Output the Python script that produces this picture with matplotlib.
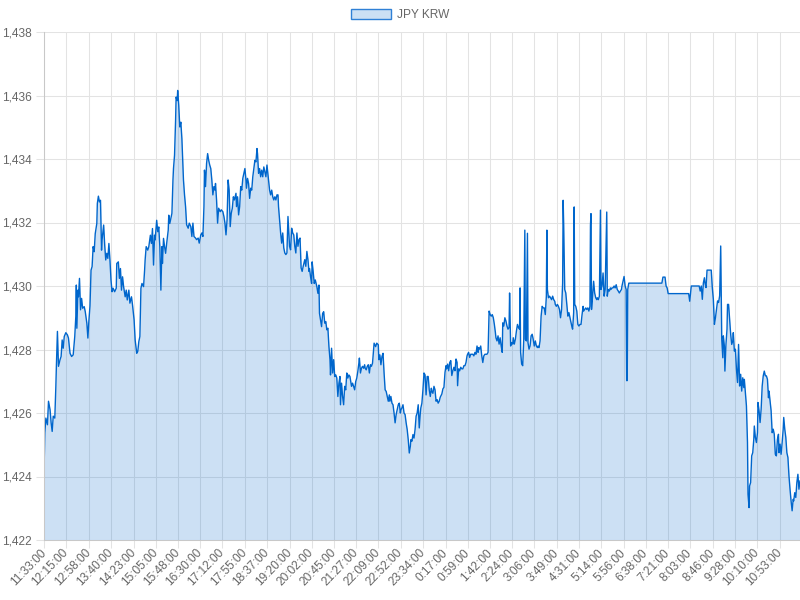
import matplotlib
matplotlib.use("Agg")
import matplotlib.pyplot as plt
from matplotlib.patches import Patch
from matplotlib.ticker import FuncFormatter, FixedLocator

series_name = "JPY KRW"
start_time = "11:33"

# minutes elapsed since start_time, and the JPY/KRW rate
minutes = [
    0, 1, 3, 6, 8, 11, 13, 15, 17, 20, 22, 23, 25, 27, 30, 32, 34, 36, 38, 41,
    44, 46, 49, 52, 55, 58, 60, 61, 62, 64, 65, 67, 69, 71, 73, 76, 78, 81, 83, 85,
    87, 89, 91, 93, 95, 97, 100, 101, 103, 105, 107, 109, 110, 113, 115, 117, 119, 121, 123, 125,
    127, 129, 131, 134, 137, 138, 141, 143, 145, 147, 149, 151, 154, 156, 158, 161, 163, 166, 168, 171,
    173, 176, 178, 180, 182, 184, 186, 189, 191, 192, 194, 197, 199, 202, 204, 206, 208, 210, 211, 214,
    216, 218, 220, 222, 224, 225, 227, 229, 231, 233, 236, 237, 239,
    243, 245, 246, 248, 250, 251, 253, 254, 256, 258, 260, 262, 264, 265, 267, 269, 271, 274, 276, 279,
    281, 283, 285, 288, 290, 293, 295, 298, 300, 302, 304, 305, 307, 309, 311, 313, 315, 317, 319, 321,
    323, 325, 326, 328, 330, 332, 335, 337, 340, 342, 344, 346, 348, 350, 352, 354, 356, 358, 360, 362,
    365, 366, 368, 370, 372, 374, 376, 378, 380, 382, 384, 385, 387, 389, 391, 393, 395, 397, 399, 401,
    403, 405, 406, 408, 410, 412, 414, 416, 418, 420, 422, 424, 425, 427, 429, 431, 433, 435, 437, 439,
    441, 443, 445, 446, 448, 450, 452, 454, 456, 458, 460, 462, 464, 465, 467, 469, 471, 473, 475, 477,
    479, 481, 483, 485, 487, 489, 491, 493, 496, 498, 500, 502, 504,
    505, 507, 509, 510, 512, 514, 516, 519, 521, 523, 524, 526, 528, 530, 532, 534, 536, 538, 540, 542,
    544, 545, 547, 549, 551, 553, 555, 557, 559, 561, 563, 564, 566, 568, 570, 572, 574, 576, 578, 580,
    582, 584, 585, 587, 589, 591, 593, 595, 597, 599, 600, 602, 604, 606, 608, 610, 611, 613, 615, 617,
    619, 621, 623, 625, 627, 628, 631, 633, 636, 637, 639, 641, 643, 645, 647, 649, 651, 653, 655, 657,
    658, 660, 662, 664, 666, 668, 670, 672, 674, 676, 678, 679, 681, 683, 685, 687, 689, 691, 693, 695,
    697, 698, 700, 702, 704, 706, 708, 710, 712, 714, 716, 717, 719, 721, 723, 725, 727, 729, 731, 733,
    735, 737, 738, 740, 742, 744, 746, 748, 750, 752,
    754, 757, 759, 761, 763, 765, 766, 768, 770, 772, 774, 776, 778, 780, 782, 784, 786, 787, 789, 791,
    793, 795, 797, 799, 801, 803, 805, 806, 808, 810, 812, 814, 816, 818, 820, 822, 824, 826, 827, 829,
    831, 833, 835, 837, 839, 841, 843, 845, 847, 849, 851, 853, 855, 857, 859, 860, 862, 864, 866, 868,
    870, 872, 873, 875, 877, 879, 881, 883, 885, 886, 888, 890, 892, 893, 895, 897, 899, 901, 903, 905,
    906, 907, 909, 911, 913, 915, 916, 918, 920, 921, 923, 925, 927, 929, 931, 933, 935, 937, 939, 940,
    942, 944, 946, 948, 950, 952, 954, 956, 957, 958, 960, 962, 964, 966, 968, 970, 972, 973, 975, 977,
    979, 981, 983, 985, 987, 988,
    989, 991, 993, 995, 997, 999, 1001, 1003, 1005, 1006, 1008, 1009, 1010, 1012, 1014, 1016, 1018, 1020, 1022, 1024,
    1026, 1027, 1029, 1031, 1033, 1035, 1037, 1039, 1040, 1041, 1042, 1044, 1046, 1048, 1050, 1052, 1053, 1055, 1057, 1059,
    1060, 1062, 1064, 1066, 1068, 1071, 1072, 1074, 1076, 1078, 1079, 1081, 1083, 1085, 1087, 1089, 1091, 1093, 1095, 1097,
    1099, 1100, 1102, 1104, 1106, 1108, 1109, 1110, 1111, 1113, 1176, 1178, 1182, 1184, 1186, 1188, 1227, 1229,
    1232, 1247, 1249, 1251, 1253, 1255, 1257, 1258, 1260, 1262, 1270, 1272, 1274, 1276, 1278, 1280, 1282, 1284, 1286, 1288,
    1289, 1290, 1292, 1293, 1295, 1296, 1298, 1300, 1301, 1303, 1305, 1307, 1309, 1311, 1312, 1314, 1316, 1318, 1320, 1322,
    1324, 1326, 1328, 1330, 1332, 1333, 1335, 1337, 1339, 1340, 1342, 1343, 1345, 1347, 1349, 1351, 1352, 1354, 1356, 1358,
    1359, 1361, 1363, 1365, 1367, 1369, 1371, 1373, 1375, 1377, 1379, 1380, 1382, 1384, 1386, 1388, 1390, 1392, 1394, 1396,
    1398, 1399, 1401, 1403, 1405, 1407, 1408, 1410, 1412, 1414, 1416, 1418, 1420, 1422, 1424, 1426, 1427, 1429, 1431, 1433,
    1435, 1437, 1439,
]

rates = [
    1424.59, 1425.37, 1425.84, 1425.63, 1426.37, 1426.10, 1425.69, 1425.42, 1425.90, 1425.84,
    1426.84, 1427.47, 1428.57, 1427.47, 1427.68, 1427.78, 1428.30, 1428.04, 1428.41, 1428.53,
    1428.46, 1428.36, 1427.88, 1427.78, 1427.83, 1428.41, 1429.04, 1430.03, 1428.67, 1429.87,
    1429.66, 1430.24, 1429.25, 1429.61, 1429.30, 1429.35, 1429.19, 1428.83, 1428.36, 1428.93,
    1429.37, 1430.50, 1430.61, 1431.24, 1431.08, 1431.65, 1431.97, 1432.60, 1432.83, 1432.65,
    1432.70, 1431.13, 1431.45, 1431.92, 1431.29, 1430.82, 1431.03, 1430.87, 1431.34, 1430.82,
    1430.19, 1429.82, 1429.93, 1429.82, 1429.93, 1430.71, 1430.76, 1430.24, 1430.55, 1429.87,
    1430.29, 1429.98, 1429.66, 1429.87, 1429.56, 1429.87, 1429.46, 1429.66, 1429.40, 1428.93,
    1428.30, 1427.88, 1427.94, 1428.25, 1428.41, 1429.93, 1430.08, 1429.98, 1430.50, 1430.82,
    1431.24, 1431.13, 1431.24, 1431.60, 1431.34, 1431.81, 1430.66, 1431.60, 1431.45, 1432.07,
    1431.71, 1431.86, 1431.24, 1429.87, 1431.24, 1430.71, 1431.50, 1431.24, 1431.03, 1431.34,
    1431.76, 1432.23, 1431.97,
    1432.29, 1433.34, 1433.70, 1434.12, 1435.22, 1435.95, 1435.84, 1436.16, 1435.69, 1435.01,
    1435.16, 1434.64, 1433.75, 1433.34, 1432.87, 1432.50, 1431.93, 1431.82, 1431.98, 1431.87,
    1431.56, 1431.98, 1431.56, 1431.51, 1431.46, 1431.51, 1431.35, 1431.61, 1431.67, 1431.56,
    1432.50, 1433.65, 1433.13, 1433.86, 1434.17, 1433.96, 1433.81, 1433.70, 1433.34, 1432.87,
    1433.13, 1433.02, 1433.23, 1432.71, 1431.98, 1432.45, 1432.34, 1432.40, 1432.34, 1432.19,
    1431.98, 1431.61, 1432.08, 1433.34, 1433.02, 1431.87, 1432.29, 1432.45, 1432.81, 1432.71,
    1432.92, 1432.50, 1432.81, 1432.24, 1432.50, 1433.13, 1433.02, 1433.39, 1433.55, 1433.70,
    1433.34, 1433.08, 1433.39, 1433.23, 1432.76, 1433.08, 1433.02, 1433.44, 1433.70, 1433.96,
    1433.91, 1434.33, 1434.17, 1433.55, 1433.70, 1433.44, 1433.65, 1433.44, 1433.75, 1433.60,
    1433.44, 1433.81, 1433.65, 1433.34, 1433.02, 1432.87, 1433.02, 1432.81, 1432.71, 1432.81,
    1432.71, 1432.87, 1432.87, 1432.50, 1432.08, 1431.67, 1431.35, 1431.67, 1431.20, 1431.04,
    1430.99, 1431.04, 1432.19, 1431.87, 1431.25, 1431.14, 1431.82, 1431.67, 1431.61, 1431.25,
    1431.04, 1431.67, 1431.25, 1431.46, 1431.51, 1430.57, 1430.46, 1430.62, 1430.83, 1430.62,
    1431.09, 1430.83, 1430.46,
    1430.55, 1430.29, 1430.08, 1430.76, 1430.45, 1430.08, 1430.19, 1429.98, 1429.77, 1430.03,
    1429.14, 1428.93, 1428.72, 1429.14, 1429.19, 1428.83, 1428.88, 1428.62, 1428.67, 1428.09,
    1427.68, 1427.20, 1428.04, 1427.26, 1427.68, 1427.15, 1427.20, 1427.10, 1426.52, 1426.94,
    1427.15, 1426.26, 1426.94, 1426.52, 1426.26, 1426.84, 1426.73, 1427.26, 1427.10, 1427.20,
    1427.15, 1426.94, 1426.84, 1426.94, 1426.84, 1426.73, 1426.99, 1427.10, 1427.31, 1427.57,
    1427.73, 1427.26, 1427.41, 1427.47, 1427.41, 1427.52, 1427.41, 1427.36, 1427.47, 1427.52,
    1427.26, 1427.52, 1427.47, 1427.57, 1427.99, 1428.20, 1428.09, 1428.20, 1428.15, 1427.68,
    1427.83, 1427.52, 1427.78, 1427.88, 1427.26, 1426.73, 1426.68, 1426.52, 1426.37, 1426.57,
    1426.37, 1426.52, 1426.31, 1426.26, 1426.00, 1425.69, 1425.95, 1426.10, 1426.26, 1426.31,
    1426.00, 1426.10, 1426.16, 1426.26, 1426.00, 1425.95, 1425.69, 1425.48, 1425.16, 1424.74,
    1424.95, 1425.16, 1425.11, 1425.32, 1425.21, 1425.48, 1425.90, 1426.00, 1426.26, 1425.53,
    1426.00, 1426.16, 1426.31, 1426.73, 1427.26, 1427.20, 1426.57, 1427.15, 1427.15, 1426.73,
    1426.52, 1426.78, 1426.68, 1426.62, 1426.84, 1426.73, 1426.37, 1426.42, 1426.31, 1426.37,
    1426.50, 1426.60, 1426.76, 1426.81, 1427.28, 1427.49, 1427.39, 1427.54, 1427.33, 1427.59,
    1427.65, 1427.18, 1427.33, 1427.44, 1427.33, 1427.70, 1427.59, 1426.86, 1427.39, 1427.33,
    1427.44, 1427.39, 1427.39, 1427.49, 1427.49, 1427.59, 1427.80, 1427.85, 1427.91, 1427.75,
    1427.85, 1427.85, 1427.85, 1427.80, 1427.91, 1427.85, 1428.11, 1427.91, 1428.06, 1428.01,
    1428.11, 1427.80, 1427.59, 1427.80, 1427.85, 1427.85, 1427.85, 1427.91, 1429.21, 1429.10,
    1429.05, 1429.10, 1429.00, 1428.79, 1428.53, 1428.37, 1428.27, 1428.43, 1428.17, 1428.37,
    1428.11, 1427.91, 1428.84, 1428.74, 1429.00, 1428.90, 1428.74, 1428.64, 1428.69, 1429.78,
    1428.11, 1428.22, 1428.17, 1428.37, 1428.17, 1428.32, 1428.58, 1428.79, 1428.69, 1428.64,
    1429.94, 1427.91, 1427.54, 1427.49, 1428.32, 1431.76, 1428.32, 1428.27, 1431.66, 1428.22,
    1428.01, 1428.11, 1428.43, 1428.48, 1428.32, 1428.11, 1428.27, 1428.11, 1428.06, 1428.11,
    1428.06, 1428.27, 1429.05, 1429.36, 1429.31, 1429.31, 1429.10, 1429.68, 1431.76, 1429.89,
    1429.63, 1429.68, 1429.63, 1429.57, 1429.68, 1429.57, 1429.52, 1429.42, 1429.36, 1429.42,
    1429.36, 1429.26, 1429.00, 1429.26, 1430.09, 1432.70,
    1431.92, 1429.89, 1429.78, 1429.42, 1429.05, 1429.16, 1429.00, 1428.84, 1428.69, 1428.64,
    1429.16, 1432.49, 1429.42, 1429.36, 1429.21, 1428.79, 1428.74, 1428.79, 1428.79, 1429.10,
    1429.36, 1429.21, 1429.26, 1429.31, 1429.26, 1429.31, 1429.21, 1429.36, 1431.92, 1432.28,
    1429.26, 1429.68, 1430.15, 1429.78, 1429.63, 1429.57, 1429.63, 1429.57, 1429.68, 1432.39,
    1429.89, 1430.00, 1430.41, 1429.68, 1429.89, 1432.33, 1429.68, 1429.89, 1429.84, 1429.94,
    1429.89, 1429.94, 1429.94, 1430.00, 1429.94, 1430.04, 1429.89, 1429.84, 1429.78, 1429.84,
    1429.89, 1430.00, 1430.15, 1430.30, 1430.00, 1429.89, 1427.02, 1427.02, 1429.89, 1430.09,
    1430.09, 1430.28, 1430.28, 1430.00, 1429.94, 1429.76, 1429.76, 1429.52,
    1430.00, 1430.00, 1429.84, 1430.00, 1429.58, 1430.10, 1430.26, 1430.10, 1429.95, 1430.50,
    1430.50, 1429.95, 1429.58, 1428.79, 1429.00, 1429.27, 1429.53, 1429.48, 1429.69, 1431.26,
    1429.69, 1428.32, 1427.74, 1428.43, 1428.11, 1427.32, 1428.16, 1428.64, 1429.42, 1429.42,
    1428.95, 1428.48, 1428.16, 1428.27, 1428.53, 1427.95, 1428.01, 1427.38, 1426.96, 1428.16,
    1426.85, 1427.22, 1426.69, 1427.11, 1426.80, 1427.06, 1426.64, 1426.22, 1425.07, 1423.44,
    1423.02, 1423.70, 1423.81, 1424.65, 1424.75, 1425.17, 1425.59, 1425.23, 1425.07, 1425.38,
    1426.33, 1426.07, 1425.70, 1426.12, 1426.85, 1427.17, 1427.32, 1427.17, 1427.17, 1427.06,
    1426.48, 1426.69, 1426.38, 1426.07, 1425.38, 1425.49, 1425.33, 1424.70, 1424.65, 1425.17,
    1425.33, 1424.75, 1425.02, 1424.70, 1425.07, 1425.49, 1425.86, 1425.49, 1425.23, 1424.75,
    1424.60, 1424.02, 1423.60, 1423.23, 1422.92, 1423.28, 1423.23, 1423.49, 1423.34, 1423.81,
    1424.07, 1423.60, 1423.86,
]

tick_labels = [
    "11:33:00", "12:15:00", "12:58:00", "13:40:00", "14:23:00", "15:05:00", "15:48:00",
    "16:30:00", "17:12:00", "17:55:00", "18:37:00", "19:20:00", "20:02:00", "20:45:00",
    "21:27:00", "22:09:00", "22:52:00", "23:34:00", "0:17:00", "0:59:00", "1:42:00",
    "2:24:00", "3:06:00", "3:49:00", "4:31:00", "5:14:00", "5:56:00", "6:38:00",
    "7:21:00", "8:03:00", "8:46:00", "9:28:00", "10:10:00", "10:53:00",
]
y_ticks = [1422, 1424, 1426, 1428, 1430, 1432, 1434, 1436, 1438]
total_minutes = 1439


def offset_of(label):
    h, m = (int(p) for p in label.split(":")[:2])
    sh, sm = (int(p) for p in start_time.split(":"))
    return ((h * 60 + m) - (sh * 60 + sm)) % 1440


plt.rcParams["font.family"] = ["Liberation Sans", "DejaVu Sans"]

LINE = "#0066cc"
GRID = "#e3e3e3"
TEXT = "#666666"

fig = plt.figure(figsize=(8, 6), dpi=100)
ax = fig.add_axes([44.3 / 800, 60 / 600, (800 - 44.3) / 800, 508 / 600])

ax.fill_between(minutes, rates, y_ticks[0], color=LINE, alpha=0.2, linewidth=0)
ax.plot(minutes, rates, color=LINE, linewidth=1.0)

ax.set_xlim(0, total_minutes)
ax.set_ylim(y_ticks[0], y_ticks[-1])

ax.xaxis.set_major_locator(FixedLocator([offset_of(t) for t in tick_labels]))
ax.set_xticklabels(tick_labels)
ax.set_yticks(y_ticks)
ax.yaxis.set_major_formatter(FuncFormatter(lambda v, p: f"{v:,.0f}"))

ax.set_axisbelow(True)
ax.grid(True, color=GRID, linewidth=0.75)
for s in ("top", "right"):
    ax.spines[s].set_visible(False)
for s in ("left", "bottom"):
    ax.spines[s].set_color("#c8c8c8")
    ax.spines[s].set_linewidth(0.75)

ax.tick_params(axis="both", length=6, width=0.75, color=GRID, labelcolor=TEXT,
               labelsize=8.6)
ax.tick_params(axis="y", pad=3)
ax.tick_params(axis="x", pad=2)
for lbl in ax.get_xticklabels():
    lbl.set_rotation(46)
    lbl.set_ha("right")
    lbl.set_va("center")
    lbl.set_rotation_mode("anchor")

handle = Patch(facecolor=(0.0, 0.4, 0.8, 0.2), edgecolor="#2f80d6", linewidth=1.0)
fig.legend(handles=[handle], labels=[series_name], loc="center",
           bbox_to_anchor=(400 / 800, 1 - 15 / 600), frameon=False,
           handlelength=40 / 12, handleheight=1.0, handletextpad=0.5,
           fontsize=8.6, labelcolor=TEXT, borderpad=0, borderaxespad=0)

fig.savefig("out.png", dpi=100)
